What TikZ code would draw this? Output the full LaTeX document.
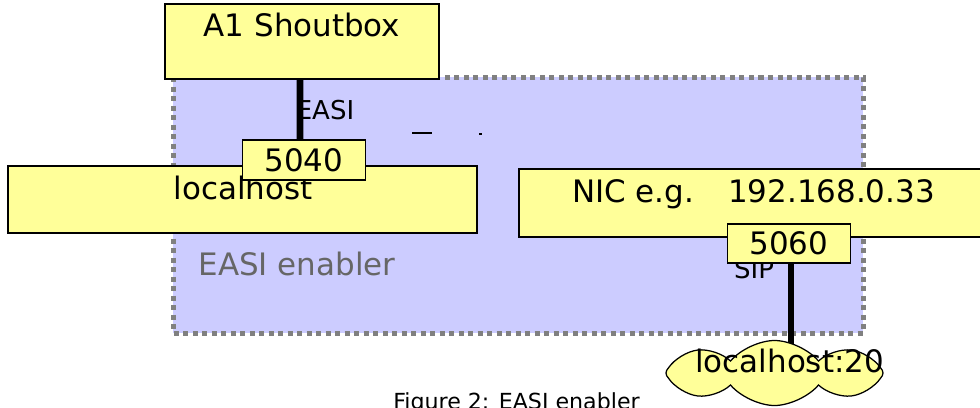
\documentclass[tikz,border=0pt]{standalone}
\usepackage{fontspec}
\setmainfont{DejaVu Sans}
\usetikzlibrary{shapes.symbols}

\definecolor{boxyellow}{HTML}{FFFF99}
\definecolor{enablerblue}{HTML}{CCCCFF}
\definecolor{dotgray}{HTML}{808080}
\definecolor{labelgray}{HTML}{666666}

\begin{document}
\begin{tikzpicture}[x=0.2mm,y=-0.2mm,
   ybox/.style={rectangle,draw,line width=0.25mm,fill=boxyellow,inner sep=0pt},
   big/.style={font=\fontsize{17.6}{20}\selectfont,inner sep=0pt,anchor=base},
   small/.style={font=\fontsize{14.8}{17}\selectfont,inner sep=0pt,anchor=base},
   wire/.style={line width=1.35mm}
   ]
  \clip (0,0) rectangle (980,407);

  % -- enabler area
  \draw[fill=enablerblue,draw=dotgray,line width=1mm,dash pattern=on 1mm off 0.9mm]
     (173,77) rectangle (863,333);
  \node[big,text=labelgray] (enablertxt) at (297,275) {EASI enabler};
  \fill (412,132) rectangle (432,134);
  \fill (479,133) rectangle (482,135);

  % -- shoutbox and EASI link
  \node[small] (easitxt) at (325,119) {EASI};
  \node[ybox,minimum width=54.8mm,minimum height=15mm] (shout) at (302,41.5) {};
  \node[big] (shouttxt) at (302,36) {A1 Shoutbox};
  \node[ybox,minimum width=93.8mm,minimum height=13.4mm] (local) at (242.5,199.5) {};
  \node[big] (localtxt) at (243,199) {localhost};
  \draw[wire] ([xshift=-0.4mm]shout.south) -- ([xshift=-0.8mm,yshift=-0.2mm]local.north -| 304,0);
  \node[ybox,minimum width=24.6mm,minimum height=8mm,big,anchor=center] (p5040) at (304,160) {5040};

  % -- NIC and SIP link
  \node[ybox,minimum width=96.2mm,minimum height=13.6mm] (nic) at (759.5,203) {};
  \node[big] (nictxt) at (753.5,202) {NIC e.g.\hspace{1.1em}192.168.0.33};
  \node[small] (siptxt) at (754,278) {SIP};
  \node[ybox,minimum width=24.6mm,minimum height=7.8mm,big,anchor=center] (p5060) at (789,243.5) {5060};
  \coordinate (sipend) at (791,350);
  \draw[wire] (p5060.south -| sipend) -- (sipend);

  % -- cloud
  \node[cloud,cloud puffs=8,cloud puff arc=100,aspect=3.3,draw,line width=0.25mm,
     fill=boxyellow,minimum width=43.4mm,minimum height=13mm,inner sep=0pt] (lhcloud) at (774.5,373) {};
  \begin{scope}
    \clip (660,330) rectangle (883,407);
    \node[big,anchor=base west] (cloudtxt) at (695,372) {localhost:2000};
  \end{scope}

  % -- caption
  \node[font=\fontsize{12.6}{15}\selectfont,inner sep=0pt,anchor=base] (caption) at (516.5,409) {Figure 2: EASI enabler};
\end{tikzpicture}
\end{document}
